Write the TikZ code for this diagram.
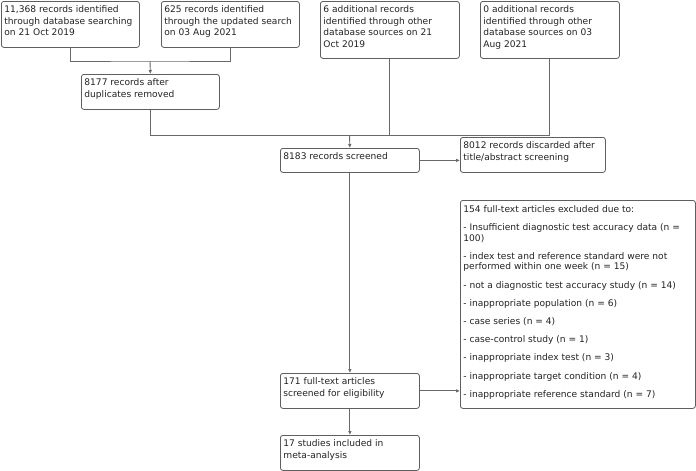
\documentclass[tikz,border=0pt]{standalone}
\usepackage{fontspec}
\setmainfont{DejaVu Sans}
\usepackage{tikz}
\usetikzlibrary{arrows.meta,positioning,calc}
\definecolor{edgegrey}{RGB}{95,95,95}
\definecolor{linkgrey}{RGB}{105,105,105}
\definecolor{textgrey}{RGB}{35,35,35}
% text block that sits at the top of a box of given size (in px)
\newcommand{\inbox}[3]{\parbox[c][\dimexpr#2pt-8pt\relax][t]{\dimexpr#1pt-6pt\relax}{\raggedright#3}}
\tikzset{
  base/.style={font=\fontsize{9.1}{11.7}\selectfont, text=textgrey, align=left},
  rec/.style={base, rectangle, rounded corners=2.5pt, draw=edgegrey, fill=white, line width=0.8pt, anchor=north west, inner xsep=3pt, inner ysep=4pt},
  ln/.style={draw=linkgrey, line width=0.9pt},
  arr/.style={ln, -{Latex[length=4pt,width=3.6pt]}},
}
\begin{document}
\begin{tikzpicture}[x=1pt,y=-1pt]
  \useasboundingbox (0,0) rectangle (696,471);
  % identification
  \node[rec] (db1) at (1,1)   {\inbox{138}{46}{11,368 records identified\\through database searching\\on 21 Oct 2019}};
  \node[rec] (db2) at (161,1) {\inbox{138}{46}{625 records identified\\through the updated search\\on 03 Aug 2021}};
  \node[rec] (oth1) at (320,1) {\inbox{139}{57}{6 additional records\\identified through other\\database sources on 21\\Oct 2019}};
  \node[rec] (oth2) at (480,1) {\inbox{139}{57}{0 additional records\\identified through other\\database sources on 03\\Aug 2021}};
  \node[rec] (dup) at (81,74) {\inbox{138}{35}{8177 records after\\duplicates removed}};
  % screening
  \node[rec] (scr) at (280,148) {\inbox{139}{24}{8183 records screened}};
  \node[rec] (disc) at (460,137) {\inbox{145}{35}{8012 records discarded after\\title/abstract screening}};
  % eligibility
  \node[rec] (excl) at (460,200) {\inbox{235}{208}{\fontsize{9.1}{10.6}\selectfont
    \vspace*{1pt}154 full-text articles excluded due to:\\[7.6pt]
    - Insufficient diagnostic test accuracy data (n =\\100)\\[7.6pt]
    - index test and reference standard were not\\performed within one week (n = 15)\\[7.6pt]
    - not a diagnostic test accuracy study (n = 14)\\[7.6pt]
    - inappropriate population (n = 6)\\[7.6pt]
    - case series (n = 4)\\[7.6pt]
    - case-control study (n = 1)\\[7.6pt]
    - inappropriate index test (n = 3)\\[7.6pt]
    - inappropriate target condition (n = 4)\\[7.6pt]
    - inappropriate reference standard (n = 7)}};
  \node[rec] (full) at (280,373) {\inbox{139}{35}{171 full-text articles\\screened for eligibility}};
  % included
  \node[rec] (incl) at (280,435) {\inbox{139}{35}{17 studies included in\\meta-analysis}};

  \coordinate (j1) at (150,61);
  \coordinate (j2) at (349.5,135);
  \draw[ln] (db1.south) |- (j1) -| (db2.south);
  \draw[arr] (j1) -- (dup.north);
  \draw[ln] (dup.south) |- (oth2.south |- j2) -- (oth2.south);
  \draw[ln] (oth1.south) -- (oth1.south |- j2);
  \draw[arr] (j2) -- (scr.north);
  \draw[arr] (scr.east) -- (scr.east -| disc.west);
  \draw[arr] (scr.south) -- (full.north);
  \draw[arr] (full.east) -- (full.east -| excl.west);
  \draw[arr] (full.south) -- (incl.north);
\end{tikzpicture}
\end{document}
